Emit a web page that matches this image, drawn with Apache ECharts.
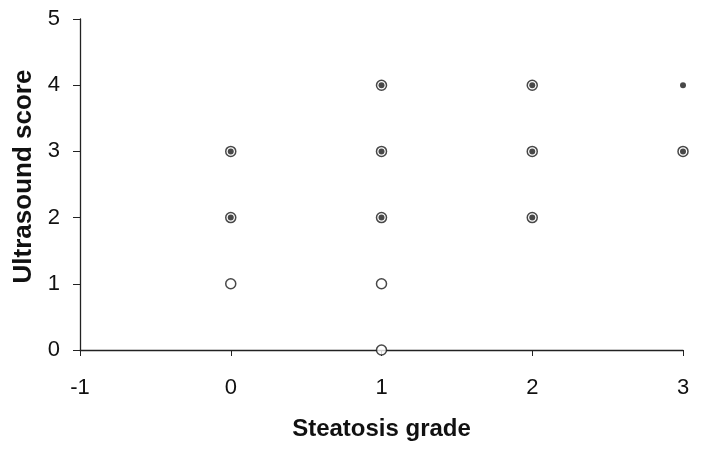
<!DOCTYPE html>
<html><head><meta charset="utf-8">
<script src="https://cdn.jsdelivr.net/npm/echarts@6/dist/echarts.min.js"></script>
<style>html,body{margin:0;padding:0;background:#fff}#c{width:702px;height:452px}</style>
</head><body><div id="c"></div>
<script>
// Points drawn with an open circle
const circlePoints = [[0,1],[0,2],[0,3],[1,0],[1,1],[1,2],[1,3],[1,4],[2,2],[2,3],[2,4],[3,3]];
// Points with a filled centre dot
const dotPoints = [[0,2],[0,3],[1,2],[1,3],[1,4],[2,2],[2,3],[2,4],[3,3],[3,4]];
const xTicks = [-1, 0, 1, 2, 3];
const yTicks = [0, 1, 2, 3, 4, 5];
const xName = 'Steatosis grade';
const yName = 'Ultrasound score';

const chart = echarts.init(document.getElementById('c'), null, {renderer:'canvas'});
const font = 'Liberation Sans, Arial, sans-serif';
chart.setOption({
  animation:false,
  backgroundColor:'#fff',
  grid:{left:80,right:19,top:19,bottom:102},
  xAxis:{
    type:'value', min:xTicks[0], max:xTicks[xTicks.length-1], interval:1,
    name:xName, nameLocation:'middle', nameGap:67,
    nameTextStyle:{fontFamily:font,fontSize:24,fontWeight:'bold',color:'#111'},
    axisLine:{show:true,onZero:false,lineStyle:{color:'#222',width:1.3}},
    axisTick:{show:true,length:6,inside:false,lineStyle:{color:'#222'}},
    axisLabel:{fontFamily:font,fontSize:22,color:'#111',margin:27},
    splitLine:{show:false}
  },
  yAxis:{
    type:'value', min:yTicks[0], max:yTicks[yTicks.length-1], interval:1,
    name:yName, nameLocation:'middle', nameGap:39, nameRotate:90,
    nameTextStyle:{fontFamily:font,fontSize:26,fontWeight:'bold',color:'#111',padding:[0,0,0,16]},
    axisLine:{show:true,onZero:false,lineStyle:{color:'#222',width:1.3}},
    axisTick:{show:true,length:7,lineStyle:{color:'#222'}},
    axisLabel:{fontFamily:font,fontSize:22,color:'#111',margin:20},
    splitLine:{show:false}
  },
  series:[
    {type:'scatter', data:circlePoints, symbol:'circle', symbolSize:10,
     itemStyle:{color:'#fff',borderColor:'#1a1a1a',borderWidth:1.5}, z:3},
    {type:'scatter', data:dotPoints, symbol:'circle', symbolSize:6,
     itemStyle:{color:'#1a1a1a'}, z:4}
  ]
});
</script></body></html>
